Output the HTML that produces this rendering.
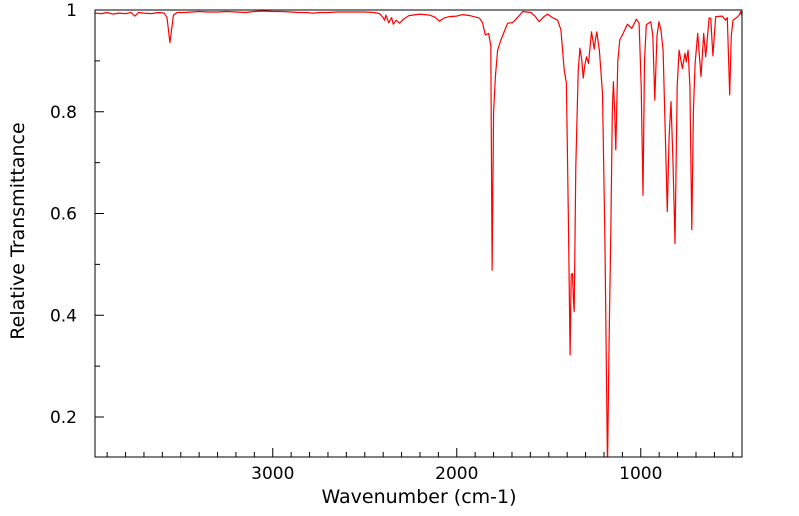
<!DOCTYPE html>
<html><head><meta charset="utf-8"><style>
html,body{margin:0;padding:0;background:#fff;}
svg{display:block;font-family:"DejaVu Sans","Liberation Sans",sans-serif;}
</style></head><body>
<svg id="chart" width="799" height="516" viewBox="0 0 799 516" xmlns="http://www.w3.org/2000/svg">
<g id="ticks"></g>
<g id="labels"></g>
<path id="line" fill="none" stroke="#ff0000" stroke-width="1.2" stroke-linejoin="round"/>
<rect x="95" y="10" width="647" height="447" fill="none" stroke="#000" stroke-width="1"/>
<text x="419" y="503" font-size="19" text-anchor="middle">Wavenumber (cm-1)</text>
<text x="24" y="231" font-size="19" text-anchor="middle" transform="rotate(-90 24 231)">Relative Transmittance</text>
</svg>
<script>
const wavenumbers = [3966,3930,3900,3870,3840,3800,3770,3749,3730,3700,3660,3620,3590,3575,3565,3559,3552,3540,3520,3480,3440,3400,3350,3300,3250,3200,3150,3100,3050,3000,2950,2900,2860,2820,2780,2740,2700,2650,2600,2550,2500,2450,2420,2400,2392,2385,2370,2354,2345,2330,2311,2290,2260,2239,2200,2148,2120,2094,2070,2040,2000,1969,1930,1877,1860,1845,1827,1815,1808,1800,1790,1778,1760,1724,1697,1670,1642,1620,1597,1575,1552,1530,1507,1480,1452,1434,1416,1404,1394,1384,1378,1371,1366,1362,1353,1340,1331,1320,1313,1305,1295,1284,1268,1260,1253,1245,1239,1225,1208,1195,1181,1172,1163,1155,1149,1142,1136,1125,1114,1100,1073,1049,1024,1009,998,988,980,970,946,935,924,912,901,890,879,856,846,836,825,814,802,792,774,760,753,743,733,723,714,705,691,673,658,647,629,620,608,593,557,539,530,517,508,499,476,465,457,452];
const transmittance = [.994,.993,.995,.992,.994,.993,.995,.988,.995,.994,.993,.995,.994,.985,.955,.936,.955,.99,.995,.995,.996,.997,.996,.996,.997,.996,.995,.997,.998,.997,.997,.996,.995,.995,.994,.995,.995,.996,.996,.996,.996,.995,.993,.985,.98,.99,.975,.985,.972,.98,.974,.982,.989,.99,.992,.99,.986,.978,.984,.987,.988,.991,.989,.984,.975,.951,.954,.93,.489,.8,.869,.921,.941,.974,.975,.985,.997,.996,.995,.988,.977,.986,.992,.985,.98,.961,.882,.856,.6,.322,.48,.482,.43,.407,.692,.88,.925,.9,.866,.89,.908,.895,.957,.94,.923,.945,.957,.92,.836,.55,.10,.35,.561,.8,.859,.8,.725,.9,.942,.951,.972,.964,.982,.974,.85,.636,.9,.971,.977,.95,.823,.95,.977,.96,.921,.604,.75,.82,.7,.541,.85,.921,.885,.915,.898,.921,.85,.568,.8,.895,.954,.869,.954,.908,.984,.984,.91,.987,.988,.98,.985,.833,.95,.98,.986,.99,.997,.99];
const xTicksMajor = [3000,2000,1000];
const yTicks = [0.2,0.4,0.6,0.8,1];
const yTickLabels = ["0.2","0.4","0.6","0.8","1"];
const X0=95,X1=742,Y0=10,Y1=457,WN_L=3966,WN_R=450,T_TOP=1,T_BOT=0.1214;
function xs(w){return X0+(WN_L-w)/(WN_L-WN_R)*(X1-X0);}
function ys(t){return Y0+(T_TOP-t)/(T_TOP-T_BOT)*(Y1-Y0);}
const NS="http://www.w3.org/2000/svg";
let d="";
for(let i=0;i<wavenumbers.length;i++){
  const t=Math.max(transmittance[i],T_BOT-0.02);
  d+=(i?"L":"M")+xs(wavenumbers[i]).toFixed(1)+","+ys(t).toFixed(1);
}
const line=document.getElementById("line");
line.setAttribute("d",d);
const clip=document.createElementNS(NS,"clipPath");clip.id="cp";
const cr=document.createElementNS(NS,"rect");cr.setAttribute("x",X0);cr.setAttribute("y",Y0);cr.setAttribute("width",X1-X0);cr.setAttribute("height",Y1-Y0);
clip.appendChild(cr);document.getElementById("chart").appendChild(clip);
line.setAttribute("clip-path","url(#cp)");
const tg=document.getElementById("ticks"),lg=document.getElementById("labels");
function addLine(x1,y1,x2,y2,name){
  const l=document.createElementNS(NS,"line");
  l.setAttribute("x1",x1);l.setAttribute("y1",y1);l.setAttribute("x2",x2);l.setAttribute("y2",y2);
  l.setAttribute("stroke","#000");l.setAttribute("stroke-width","1");
  
  
  tg.appendChild(l);
}
function addText(x,y,s,anchor,name){
  const t=document.createElementNS(NS,"text");
  t.setAttribute("x",x);t.setAttribute("y",y);t.setAttribute("font-size","17");t.setAttribute("text-anchor",anchor);
  t.textContent=s;
  
  
  lg.appendChild(t);
}
for(let w=3900;w>WN_R;w-=100){
  const x=xs(w);const major=xTicksMajor.includes(w);
  addLine(x,Y1,x,Y1-(major?9:5),"x-tick");
}
xTicksMajor.forEach(w=>addText(xs(w),479,String(w),"middle","x-tick-label"));
for(let k=2;k<=10;k++){
  const v=k/10;const y=ys(v);const major=k%2===0;
  addLine(X0,y,X0+(major?9:5),y,"y-tick");
}
yTicks.forEach((v,i)=>addText(77,ys(v)+6,yTickLabels[i],"end","y-tick-label"));
</script>
</body></html>
